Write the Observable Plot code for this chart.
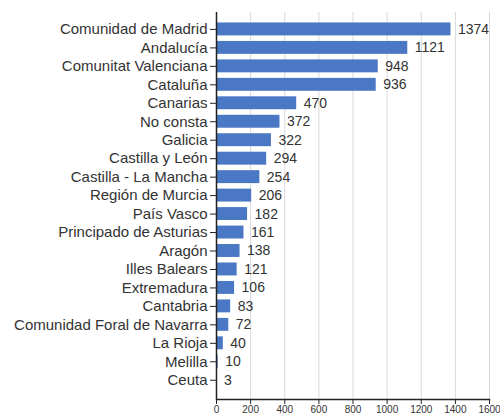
<!DOCTYPE html>
<html><head><meta charset="utf-8">
<script src="https://cdn.jsdelivr.net/npm/d3@7"></script>
<script src="https://cdn.jsdelivr.net/npm/@observablehq/plot@0.6"></script>
<style>body{margin:0;background:#fff}</style>
</head><body><div id="chart"></div>
<script>
const regions = ["Comunidad de Madrid","Andalucía","Comunitat Valenciana","Cataluña","Canarias","No consta","Galicia","Castilla y León","Castilla - La Mancha","Región de Murcia","País Vasco","Principado de Asturias","Aragón","Illes Balears","Extremadura","Cantabria","Comunidad Foral de Navarra","La Rioja","Melilla","Ceuta"];
const counts = [1374,1121,948,936,470,372,322,294,254,206,182,161,138,121,106,83,72,40,10,3];
const xTicks = [0,200,400,600,800,1000,1200,1400,1600];
const data = regions.map((r,i)=>({region:r, count:counts[i]}));
const chart = Plot.plot({
  width:500, height:417,
  marginLeft:216, marginRight:11, marginTop:12, marginBottom:18,
  style:{fontFamily:"'Liberation Sans', Arial, sans-serif", background:"#fff"},
  x:{domain:[0,1600], label:null},
  y:{domain:regions, paddingInner:0.3, paddingOuter:0.63, align:0.45, round:false, label:null},
  marks:[
    Plot.gridX(xTicks,{stroke:"#d9d9d9", strokeOpacity:1}),
    Plot.barX(data,{x:"count", y:"region", fill:"#4a78c4"}),
    Plot.text(data,{x:"count", y:"region", text:d=>String(d.count), textAnchor:"start", dx:7, fontSize:14, fill:"#333"}),
    Plot.ruleX([0],{stroke:"#222", strokeWidth:1.5}),
    Plot.frame({anchor:"bottom", stroke:"#222", strokeWidth:1.5}),
    Plot.axisX(xTicks,{tickSize:5, tickPadding:1, fontSize:10, tickFormat:d3.format("d"), stroke:"#222", fill:"#333", label:null}),
    Plot.axisY({tickSize:6, tickPadding:3, fontSize:15, stroke:"#222", fill:"#333", label:null})
  ]
});
document.getElementById("chart").appendChild(chart);
</script>
</body></html>
